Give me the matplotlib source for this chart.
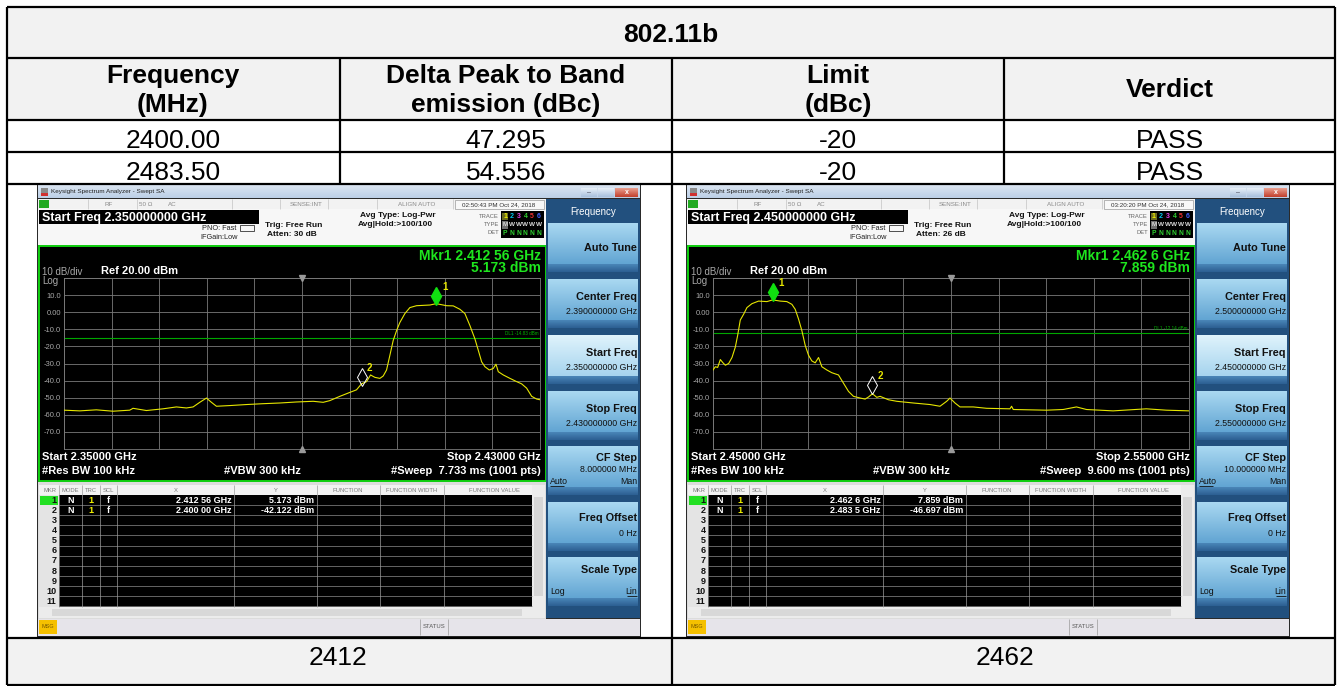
import numpy as np
import matplotlib
matplotlib.use('Agg')
import matplotlib.pyplot as plt
from matplotlib.patches import Rectangle
from matplotlib import transforms
from matplotlib.colors import to_rgb

plt.rcParams['font.family'] = ['Liberation Sans', 'DejaVu Sans']

W, H = 1340, 686

# ---------------- table data ----------------
table_title = "802.11b"
header_lines = [["Frequency", "(MHz)"], ["Delta Peak to Band", "emission (dBc)"],
                ["Limit", "(dBc)"], ["Verdict"]]
freqs_mhz = ["2400.00", "2483.50"]
delta_dbc = ["47.295", "54.556"]
limits_dbc = ["-20", "-20"]
verdicts = ["PASS", "PASS"]
channel_labels = ["2412", "2462"]

# ---------------- spectrum traces (GHz, dBm) ----------------
trace1_ghz = [2.35000, 2.35263, 2.35544, 2.35824, 2.36104, 2.36160, 2.36385, 2.36665, 2.36889,
              2.37057, 2.37170, 2.37282, 2.37394, 2.37478, 2.37562, 2.37786, 2.38067, 2.38347,
              2.38627, 2.38907, 2.39188, 2.39356, 2.39468, 2.39636, 2.39804, 2.39916, 2.40000,
              2.40085, 2.40152, 2.40225, 2.40309, 2.40365, 2.40421, 2.40477, 2.40533, 2.40589,
              2.40645, 2.40729, 2.40813, 2.40925, 2.41150, 2.41256, 2.41430, 2.41542, 2.41654,
              2.41738, 2.41823, 2.41906, 2.41963, 2.42019, 2.42075, 2.42148, 2.42215, 2.42260,
              2.42299, 2.42383, 2.42495, 2.42607, 2.42691, 2.42775, 2.42860, 2.42944, 2.43000]
trace1_dbm = [-57.3, -57.7, -57.1, -57.9, -57.3, -56.2, -57.5, -56.5, -55.4,
              -56.0, -55.4, -52.7, -50.2, -52.7, -55.0, -54.6, -54.0, -53.5,
              -53.1, -52.5, -52.1, -52.7, -51.7, -49.2, -46.9, -45.4, -41.9,
              -40.6, -36.7, -38.1, -38.7, -37.3, -33.8, -25.2, -16.5, -10.8,
              -6.0, -0.8, 2.7, 3.8, 4.2, 5.0, 3.8, 3.7, 1.7,
              -0.8, -7.9, -15.6, -22.3, -29.0, -31.9, -33.8, -32.9, -30.4,
              -34.8, -36.7, -38.7, -40.6, -41.9, -44.4, -49.2, -50.8, -51.2]

trace2_ghz = [2.45000, 2.45049, 2.45098, 2.45154, 2.45210, 2.45259, 2.45329, 2.45399, 2.45469,
              2.45517, 2.45573, 2.45643, 2.45713, 2.45818, 2.45958, 2.46133, 2.46252, 2.46413,
              2.46552, 2.46657, 2.46727, 2.46797, 2.46867, 2.46937, 2.47007, 2.47077, 2.47147,
              2.47217, 2.47287, 2.47392, 2.47497, 2.47636, 2.47741, 2.47846, 2.47951, 2.48091,
              2.48196, 2.48266, 2.48350, 2.48441, 2.48510, 2.48685, 2.48860, 2.49210, 2.49559,
              2.49769, 2.49909, 2.49979, 2.50084, 2.50189, 2.50469, 2.50748, 2.51238, 2.51273,
              2.51308, 2.52007, 2.52357, 2.52636, 2.52846, 2.53406, 2.54105, 2.54524, 2.55000]
trace2_dbm = [-33.8, -31.9, -32.3, -27.7, -29.6, -31.0, -30.0, -26.5, -20.4,
              -13.7, -4.6, -1.2, 2.7, 5.0, 6.5, 6.2, 7.2, 6.5,
              6.2, 4.6, 1.7, -4.0, -10.8, -19.4, -25.2, -28.5, -29.6,
              -26.5, -31.9, -33.8, -35.4, -36.7, -41.5, -46.3, -49.2, -50.2,
              -50.8, -49.6, -47.7, -49.8, -49.2, -51.2, -52.1, -53.1, -54.0,
              -55.0, -52.1, -50.2, -53.1, -55.4, -55.4, -56.2, -56.5, -55.0,
              -56.9, -57.3, -56.9, -55.4, -56.9, -57.7, -56.5, -57.3, -57.7]

y_grid_vals = [20, 10, 0, -10, -20, -30, -40, -50, -60, -70, -80]
y_grid_labels = ["", "10.0", "0.00", "-10.0", "-20.0", "-30.0", "-40.0", "-50.0", "-60.0", "-70.0", ""]

# markers (GHz, dBm)
marker1_ghz = [2.41256, 2.40000]
marker1_dbm = [5.173, -42.122]
marker2_ghz = [2.4626, 2.4835]
marker2_dbm = [7.859, -46.697]

screens = [
    dict(start=2.35, stop=2.43, box='Start Freq 2.350000000 GHz', time='02:50:43 PM Oct 24, 2018',
         atten='Atten: 30 dB', mkr='Mkr1 2.412 56 GHz', mkrv='5.173 dBm', dl=-14.83,
         dltxt='DL1 -14.83 dBm', st='Start 2.35000 GHz', sp='Stop 2.43000 GHz',
         sweep='#Sweep  7.733 ms (1001 pts)', center='2.390000000 GHz', skstart='2.350000000 GHz',
         skstop='2.430000000 GHz', cfstep='8.000000 MHz',
         rows=[('2.412 56 GHz', '5.173 dBm'), ('2.400 00 GHz', '-42.122 dBm')],
         f=trace1_ghz, p=trace1_dbm, mf=marker1_ghz, mp=marker1_dbm),
    dict(start=2.45, stop=2.55, box='Start Freq 2.450000000 GHz', time='03:20:20 PM Oct 24, 2018',
         atten='Atten: 26 dB', mkr='Mkr1 2.462 6 GHz', mkrv='7.859 dBm', dl=-12.14,
         dltxt='DL1 -12.14 dBm', st='Start 2.45000 GHz', sp='Stop 2.55000 GHz',
         sweep='#Sweep  9.600 ms (1001 pts)', center='2.500000000 GHz', skstart='2.450000000 GHz',
         skstop='2.550000000 GHz', cfstep='10.000000 MHz',
         rows=[('2.462 6 GHz', '7.859 dBm'), ('2.483 5 GHz', '-46.697 dBm')],
         f=trace2_ghz, p=trace2_dbm, mf=marker2_ghz, mp=marker2_dbm),
]

fig = plt.figure(figsize=(W / 100, H / 100), dpi=100)
ax = fig.add_axes([0, 0, 1, 1])
ax.axis('off')


def R(x0, y0, x1, y1, fc, ec='none', lw=0, z=1):
    ax.add_patch(Rectangle((x0, y0), x1 - x0, y1 - y0, facecolor=fc, edgecolor=ec, linewidth=lw, zorder=z))


def L(x0, y0, x1, y1, c='black', lw=1.0, z=3):
    ax.plot([x0, x1], [y0, y1], color=c, lw=lw, zorder=z, solid_capstyle='butt')


def T(x, y, s, size, color='black', weight='normal', ha='left', va='center', z=6):
    ax.text(x, y, s, fontsize=size, color=color, fontweight=weight, ha=ha, va=va, zorder=z)


def G(x0, y0, x1, y1, ctop, cbot, z=2):
    c0 = np.array(to_rgb(ctop))
    c1 = np.array(to_rgb(cbot))
    t = np.linspace(0, 1, 32)[:, None, None]
    img = c0 * (1 - t) + c1 * t
    ax.imshow(img, extent=(x0, x1, y1, y0), aspect='auto', interpolation='bilinear', zorder=z)


# ---------------- table ----------------
R(7, 7, 1335, 120, '#f2f2f2', z=0)
R(7, 638, 1335, 685, '#f2f2f2', z=0)
TL = 1.6
for y in [7, 58, 120, 152, 184, 638, 684.5]:
    L(7, y, 1335, y, lw=TL, z=4)
for x in [7, 1335]:
    L(x, 7, x, 684.5, lw=TL, z=4)
for x in [340, 1004]:
    L(x, 58, x, 184, lw=TL, z=4)
L(672, 58, 672, 684.5, lw=TL, z=4)

T(671, 42.5, table_title, 19, weight='bold', ha='center', va='baseline')
col_cx = [173, 506, 838, 1170]
for cx, lines in zip(col_cx, header_lines):
    if len(lines) == 2:
        T(cx, 83, lines[0], 19, weight='bold', ha='center', va='baseline')
        T(cx, 112, lines[1], 19, weight='bold', ha='center', va='baseline')
    else:
        T(cx, 97, lines[0], 19, weight='bold', ha='center', va='baseline')
for i, yb in enumerate([147.5, 179.5]):
    for cx, col in zip(col_cx, [freqs_mhz, delta_dbc, limits_dbc, verdicts]):
        T(cx, yb, col[i], 19, ha='center', va='baseline')
T(338, 665, channel_labels[0], 19, ha='center', va='baseline')
T(1005, 665, channel_labels[1], 19, ha='center', va='baseline')


# ---------------- spectrum analyser screens ----------------
def draw_screen(dx, c):
    def X(x):
        return x + dx
    R(X(37), 184, X(641), 637, '#2a2a2a', z=1)
    # title bar
    G(X(38), 185, X(640), 198.5, '#dde7f3', '#bccfe6')
    R(X(41), 188, X(48), 196, '#8a8a8a', z=3)
    R(X(41), 193, X(48), 196, '#d03030', z=3)
    T(X(51), 192, 'Keysight Spectrum Analyzer - Swept SA', 4.6, '#202020')
    G(X(581), 188, X(597), 197, '#e8f0f8', '#a9c0dc', z=3)
    G(X(598), 188, X(614), 197, '#e8f0f8', '#a9c0dc', z=3)
    G(X(615), 188, X(638), 197, '#eaa090', '#c2402c', z=3)
    T(X(589), 192.5, '–', 5, '#445', ha='center')
    T(X(626.5), 192.5, 'x', 5, 'white', 'bold', ha='center')
    # status row
    R(X(38), 199, X(546), 209, '#f2f2f2', z=2)
    for xs in [88, 137, 232, 280, 328, 377, 453]:
        L(X(xs), 199, X(xs), 209, '#c4c4c4', 0.5)
    R(X(39), 200, X(49), 208, '#22aa22', z=3)
    T(X(109), 204, 'RF', 4.5, '#8a8a8a', ha='center')
    T(X(146), 204, '50 Ω', 4.5, '#8a8a8a', ha='center')
    T(X(172), 204, 'AC', 4.5, '#8a8a8a', ha='center')
    T(X(306), 204, 'SENSE:INT', 4.5, '#8a8a8a', ha='center')
    T(X(417), 204, 'ALIGN AUTO', 4.5, '#8a8a8a', ha='center')
    R(X(455), 200, X(544), 208.5, '#f8f8f8', ec='#9a9a9a', lw=0.5, z=3)
    T(X(499), 204.3, c['time'], 4.5, '#303030', ha='center')
    # info area
    R(X(38), 209, X(546), 245, '#f7f7f7', z=2)
    R(X(39), 210, X(259), 224, 'black', z=3)
    T(X(42), 217.5, c['box'], 9, 'white', 'bold')
    T(X(236), 228.5, 'PNO: Fast', 5.3, '#222', ha='right')
    T(X(238), 237.5, 'IFGain:Low', 5.3, '#222', ha='right')
    R(X(240), 225, X(254), 231, 'none', ec='#333', lw=0.6, z=3)
    T(X(265), 225.5, 'Trig: Free Run', 6, '#111', 'bold')
    T(X(267), 234.5, c['atten'], 6, '#111', 'bold')
    T(X(360), 215.5, 'Avg Type: Log-Pwr', 6, '#111', 'bold')
    T(X(358), 224.5, 'Avg|Hold:>100/100', 6, '#111', 'bold')
    T(X(499), 216, 'TRACE', 4.2, '#666', ha='right')
    T(X(499), 224.5, 'TYPE', 4.2, '#666', ha='right')
    T(X(499), 233, 'DET', 4.2, '#666', ha='right')
    R(X(501), 211, X(544), 238, 'black', z=3)
    R(X(502), 212.5, X(508), 220, '#6a6a20', z=4)
    R(X(502), 221, X(508), 228.5, '#707070', z=4)
    for k, col in enumerate(['#f0f000', '#00c8f0', '#e040e0', '#30d030', '#f03030', '#4060ff']):
        T(X(505 + k * 6.8), 216.3, str(k + 1), 5, col, 'bold', ha='center')
    for k, ch in enumerate('MWWWWW'):
        T(X(505 + k * 6.8), 224.8, ch, 4.6, '#d8d8d8', 'bold', ha='center')
    for k, ch in enumerate('PNNNNN'):
        T(X(505 + k * 6.8), 233.2, ch, 4.8, '#30d030', 'bold', ha='center')
    # display area
    R(X(38.5), 245.5, X(545.5), 481, 'black', ec='#10e010', lw=1.3, z=2)
    T(X(42), 272, '10 dB/div', 7, '#a8a8a8')
    T(X(42), 280.5, 'Log', 7, '#a8a8a8')
    T(X(101), 271, 'Ref 20.00 dBm', 8, 'white', 'bold')
    T(X(541), 255.5, c['mkr'], 10, '#1ee61e', 'bold', ha='right')
    T(X(541), 267.5, c['mkrv'], 10, '#1ee61e', 'bold', ha='right')
    T(X(42), 456.5, c['st'], 8, 'white', 'bold')
    T(X(541), 456.5, c['sp'], 8, 'white', 'bold', ha='right')
    T(X(42), 470.5, '#Res BW 100 kHz', 8, 'white', 'bold')
    T(X(262), 470.5, '#VBW 300 kHz', 8, 'white', 'bold', ha='center')
    T(X(541), 470.5, c['sweep'], 8, 'white', 'bold', ha='right')
    # marker table
    R(X(38), 482, X(546), 619, '#dcdcdc', z=2)
    R(X(39), 485, X(532), 495, '#f2f2f2', z=3)
    R(X(39), 495, X(59), 607, '#e4e4e4', z=3)
    R(X(59), 495, X(532), 607, 'black', z=3)
    R(X(40), 495.8, X(58), 505, '#22e022', z=3)
    for i in range(1, 12):
        yy = 495 + i * 10.1
        L(X(59), yy, X(532), yy, '#8c8c8c', 0.5, z=4)
    for xs in [59, 82, 100, 117, 234, 317, 380, 444]:
        L(X(xs), 485, X(xs), 607, '#9c9c9c', 0.5, z=4)
    for lab, xc in zip(['MKR', 'MODE', 'TRC', 'SCL', 'X', 'Y', 'FUNCTION', 'FUNCTION WIDTH', 'FUNCTION VALUE'],
                       [50, 70.5, 91, 108.5, 176, 276, 348, 412, 494]):
        T(X(xc), 490.3, lab, 4.2, '#7a7a7a', ha='center')
    for i in range(11):
        yy = 500.3 + i * 10.1
        T(X(56.5), yy, str(i + 1), 6.5, '#111', 'bold', ha='right')
    for i, (xv, yv) in enumerate(c['rows']):
        yy = 500.3 + i * 10.1
        T(X(70.5), yy, 'N', 6.5, 'white', 'bold', ha='center')
        T(X(91), yy, '1', 6.5, '#f0f000', 'bold', ha='center')
        T(X(108.5), yy, 'f', 6.5, 'white', 'bold', ha='center')
        T(X(231.5), yy, xv, 6.5, 'white', 'bold', ha='right')
        T(X(314), yy, yv, 6.5, 'white', 'bold', ha='right')
    R(X(532), 485, X(545), 607, '#ececec', z=3)
    R(X(534), 497, X(543), 596, '#d6d6d6', z=4)
    R(X(39), 607, X(545), 617.5, '#ececec', z=3)
    R(X(52), 609, X(522), 615.5, '#d8d8d8', z=4)
    # softkey panel
    R(X(546), 199, X(640), 618, '#22507e', z=2)
    T(X(593), 212, 'Frequency', 7, 'white', ha='center')
    tops = [223, 279, 335, 391, 446, 502, 557]
    for k, top in enumerate(tops):
        if k == 2:
            G(X(548), top, X(638), top + 41, '#dff3fc', '#a6d4ee', z=3)
        else:
            G(X(548), top, X(638), top + 41, '#a9d8f1', '#62a5d3', z=3)
        G(X(548), top + 41, X(638), top + 49, '#4a86b8', '#2c5f92', z=3)
    tx = X(637)
    T(tx, tops[0] + 25, 'Auto Tune', 7.8, '#111', 'bold', ha='right')
    T(tx, tops[1] + 18, 'Center Freq', 7.8, '#111', 'bold', ha='right')
    T(tx, tops[1] + 33, c['center'], 6.3, '#111', ha='right')
    T(tx, tops[2] + 18, 'Start Freq', 7.8, '#111', 'bold', ha='right')
    T(tx, tops[2] + 33, c['skstart'], 6.3, '#111', ha='right')
    T(tx, tops[3] + 18, 'Stop Freq', 7.8, '#111', 'bold', ha='right')
    T(tx, tops[3] + 33, c['skstop'], 6.3, '#111', ha='right')
    T(tx, tops[4] + 12, 'CF Step', 7.8, '#111', 'bold', ha='right')
    T(tx, tops[4] + 24, c['cfstep'], 6.3, '#111', ha='right')
    T(X(550), tops[4] + 36, 'Auto', 6.3, '#111')
    L(X(550), tops[4] + 40, X(564), tops[4] + 40, '#111', 0.6, z=5)
    T(tx, tops[4] + 36, 'Man', 6.3, '#111', ha='right')
    T(tx, tops[5] + 16, 'Freq Offset', 7.8, '#111', 'bold', ha='right')
    T(tx, tops[5] + 31, '0 Hz', 6.3, '#111', ha='right')
    T(tx, tops[6] + 13, 'Scale Type', 7.8, '#111', 'bold', ha='right')
    T(X(550), tops[6] + 35, 'Log', 6.3, '#111')
    T(tx, tops[6] + 35, 'Lin', 6.3, '#111', ha='right')
    L(X(627), tops[6] + 39, X(637), tops[6] + 39, '#111', 0.6, z=5)
    # msg bar
    R(X(38), 618.5, X(640), 635.5, '#e6e4ea', z=2)
    R(X(39), 620, X(57), 634, '#f5c000', z=3)
    T(X(48), 627, 'MSG', 4, '#7a5a00', ha='center')
    L(X(420), 619, X(420), 635, '#9a9a9a', 0.5)
    L(X(448), 619, X(448), 635, '#9a9a9a', 0.5)
    T(X(434), 627, 'STATUS', 4.2, '#555', ha='center')

    # trace axes
    x0, x1, y0, y1 = X(64), X(540), 278, 449
    ta = fig.add_axes([x0 / W, 1 - y1 / H, (x1 - x0) / W, (y1 - y0) / H])
    ta.set_facecolor('black')
    ta.set_xlim(c['start'], c['stop'])
    ta.set_ylim(-80, 20)
    ta.set_xticks(np.linspace(c['start'], c['stop'], 11))
    ta.set_xticklabels([])
    ta.set_yticks(y_grid_vals)
    ta.set_yticklabels(y_grid_labels)
    ta.grid(True, color='#7a7a7a', lw=0.6)
    ta.tick_params(length=0, labelsize=5.5, labelcolor='#a8a8a8', pad=2)
    for s in ta.spines.values():
        s.set_color('#7a7a7a')
        s.set_linewidth(0.6)
    ta.plot(c['f'], c['p'], color='#e6e600', lw=0.8, zorder=3)
    ta.axhline(c['dl'], color='#00a800', lw=0.8, zorder=2)
    ta.text(0.997, c['dl'] + 1.0, c['dltxt'], transform=ta.get_yaxis_transform(), fontsize=3.3,
            color='#00b000', ha='right', va='bottom')
    mid = (c['start'] + c['stop']) / 2
    ta.plot([mid], [20], marker='v', color='#9a9a9a', ms=4, clip_on=False, zorder=4)
    ta.plot([mid], [-80], marker='^', color='#9a9a9a', ms=4, clip_on=False, zorder=4)
    off = transforms.offset_copy(ta.transData, fig=fig, x=0, y=7, units='dots')
    ta.plot([c['mf'][0]], [c['mp'][0]], marker='d', ms=9, color='#10e010', transform=off, zorder=5)
    ta.plot([c['mf'][1]], [c['mp'][1]], marker='d', ms=9, mfc='none', mec='white', mew=0.7,
            transform=off, zorder=5)
    for k in range(2):
        ta.annotate(str(k + 1), (c['mf'][k], c['mp'][k]), xytext=(6, 11.5), textcoords='offset points',
                    fontsize=7, color='#e6e600', fontweight='bold', ha='center', va='center', zorder=6)


for dx, cfg in zip([0, 649], screens):
    draw_screen(dx, cfg)

ax.set_xlim(0, W)
ax.set_ylim(H, 0)
fig.savefig('out.png', dpi=100)
